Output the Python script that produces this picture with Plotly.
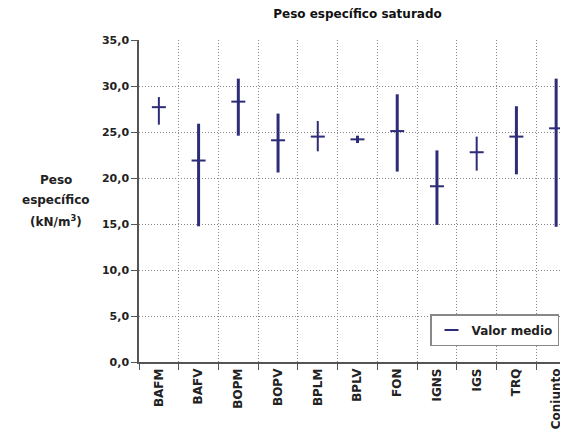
import plotly.graph_objects as go

categories = ["BAFM", "BAFV", "BOPM", "BOPV", "BPLM", "BPLV", "FON", "IGNS", "IGS", "TRQ", "Conjunto"]
max_vals = [28.8, 25.9, 30.8, 27.0, 26.2, 24.6, 29.1, 23.0, 24.5, 27.8, 30.8]
min_vals = [25.8, 14.75, 24.6, 20.6, 22.9, 23.8, 20.7, 14.9, 20.8, 20.4, 14.7]
mean_vals = [27.7, 21.9, 28.3, 24.1, 24.5, 24.2, 25.1, 19.1, 22.8, 24.5, 25.4]
y_ticks = [0, 5, 10, 15, 20, 25, 30, 35]
y_title_lines = ["Peso", "específico", "(kN/m<sup>3</sup>)"]

navy = "#2c2c78"
line_widths = [2, 3, 3, 3, 2, 3, 3, 3, 2, 3, 3]
FAM = "DejaVu Sans, Liberation Sans, Arial"

fig = go.Figure()
for c, lo, hi, w in zip(categories, min_vals, max_vals, line_widths):
    fig.add_trace(go.Scatter(x=[c, c], y=[lo, hi], mode="lines",
                             line=dict(color=navy, width=w), showlegend=False,
                             hoverinfo="skip"))
fig.add_trace(go.Scatter(x=categories, y=mean_vals, mode="markers", name="Valor medio",
                         marker=dict(symbol="line-ew", size=10,
                                     line=dict(color=navy, width=2))))

font_y = dict(family=FAM, size=11, color="#222", weight="bold")
font_x = dict(family=FAM, size=12, color="#222", weight="bold")
grid_dash = "1px,2px"

fig.update_layout(
    width=568, height=435,
    margin=dict(l=131, r=0, t=32, b=81),
    paper_bgcolor="white", plot_bgcolor="white",
    separators=",.",
    title=dict(text="Peso específico saturado", x=0.5, xref="paper", xanchor="center",
               y=1 - 6 / 435, yref="container", yanchor="middle",
               font=dict(family=FAM, size=12, color="#111", weight="bold")),
    xaxis=dict(type="category", categoryorder="array", categoryarray=categories,
               tickson="boundaries", ticks="outside", ticklen=6, tickcolor="#555",
               showgrid=True, gridcolor="#888", griddash=grid_dash, gridwidth=1,
               showline=True, linecolor="#555", linewidth=1.5,
               tickangle=-90, tickfont=font_x, range=[-0.5, 10.5]),
    yaxis=dict(range=[0, 35], tickvals=y_ticks, tickformat=".1f",
               ticks="outside", ticklen=6, tickcolor="#555",
               showgrid=True, gridcolor="#888", griddash=grid_dash, gridwidth=1,
               showline=True, linecolor="#555", linewidth=1.5,
               tickfont=font_y, zeroline=False),
    legend=dict(x=(422 - 131) / 437, y=(354 - 306) / 322, xanchor="left", yanchor="top",
                bordercolor="#888", borderwidth=1.5, bgcolor="white",
                font=dict(family=FAM, size=12, color="#222", weight="bold"),
                itemwidth=30, tracegroupgap=0),
    showlegend=True,
)
for line, ypx in zip(y_title_lines, [172, 192, 213]):
    fig.add_annotation(text=line, xref="paper", yref="paper",
                       x=(48 - 131) / 437, y=(354 - ypx) / 322, showarrow=False,
                       xanchor="center", yanchor="middle", align="center",
                       font=dict(family=FAM, size=12, color="#222", weight="bold"))

fig.write_html("out.html")
